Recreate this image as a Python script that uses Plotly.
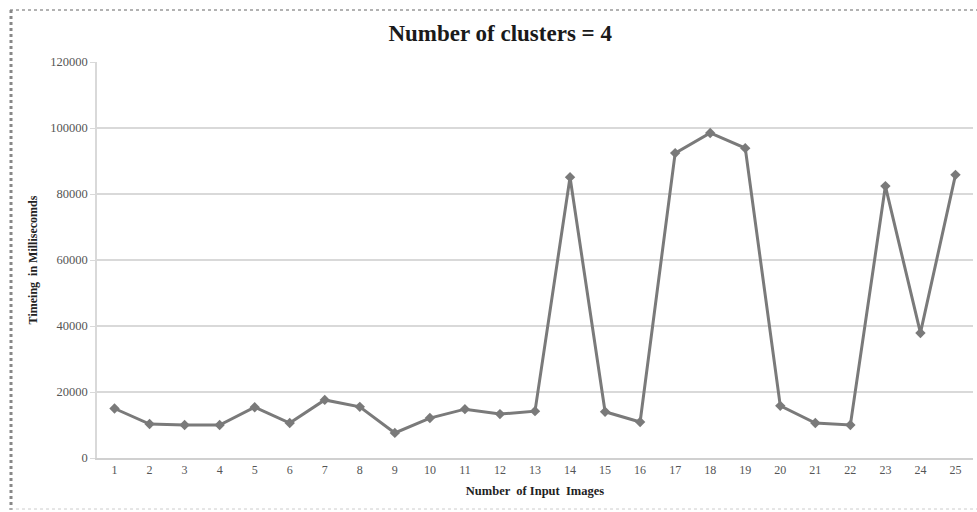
import plotly.graph_objects as go

categories = [str(i) for i in range(1, 26)]
timing_ms = [15000, 10300, 10000, 10000, 15400, 10600, 17600, 15500, 7600, 12100,
             14800, 13300, 14200, 85100, 14000, 10900, 92400, 98500, 93900, 15800,
             10600, 10000, 82400, 37900, 85800]
y_ticks = [0, 20000, 40000, 60000, 80000, 100000, 120000]

W, H = 977, 512
ml, mr, mt, mb = 97, 4, 62, 54

fig = go.Figure()
fig.add_trace(go.Scatter(
    x=categories, y=timing_ms, mode="lines+markers",
    line=dict(color="#7a7a7a", width=3),
    marker=dict(symbol="diamond", size=8, color="#7a7a7a"),
    showlegend=False,
))

serif = "Liberation Serif, Times New Roman, serif"
fig.update_layout(
    width=W, height=H,
    margin=dict(l=ml, r=mr, t=mt, b=mb),
    paper_bgcolor="white", plot_bgcolor="white",
    title=dict(text="<b>Number of clusters = 4</b>", x=0.512, xanchor="center",
               y=1 - 33 / H, yanchor="middle",
               font=dict(family=serif, size=23, color="#1a1a1a")),
    xaxis=dict(type="category", showgrid=False, showline=True, linecolor="#d0d0d0",
               linewidth=1.5, ticks="", tickfont=dict(family=serif, size=12, color="#555"),
               title=dict(text="<b>Number  of Input  Images</b>", standoff=10,
                          font=dict(family=serif, size=12.5, color="#222")),
               range=[-0.5, 24.5]),
    yaxis=dict(range=[0, 120000], tickvals=y_ticks, ticktext=[str(v) for v in y_ticks],
               showgrid=True, gridcolor="#d9d9d9", gridwidth=1.5,
               showline=True, linecolor="#d9d9d9", linewidth=1.5,
               ticks="outside", ticklen=5, tickcolor="#d9d9d9",
               zeroline=False,
               tickfont=dict(family=serif, size=12.5, color="#555"),
               title=dict(text="<b>Timeing  in Millisecomds</b>", standoff=10,
                          font=dict(family=serif, size=12, color="#222"))),
    shapes=[
        dict(type="line", xref="paper", yref="paper",
             x0=(10 - ml) / (W - ml - mr), x1=(W - ml) / (W - ml - mr),
             y0=(H - 10 - mb) / (H - mt - mb), y1=(H - 10 - mb) / (H - mt - mb),
             line=dict(color="#999", width=1.5, dash="dot")),
        dict(type="line", xref="paper", yref="paper",
             x0=(11 - ml) / (W - ml - mr), x1=(11 - ml) / (W - ml - mr),
             y0=(H - 10 - mb) / (H - mt - mb), y1=(H - 510 - mb) / (H - mt - mb),
             line=dict(color="#888", width=3, dash="dot")),
        dict(type="line", xref="paper", yref="paper",
             x0=(10 - ml) / (W - ml - mr), x1=(W - ml) / (W - ml - mr),
             y0=(H - 509 - mb) / (H - mt - mb), y1=(H - 509 - mb) / (H - mt - mb),
             line=dict(color="#ccc", width=1, dash="dot")),
    ],
)

fig.write_html("out.html", config={"displayModeBar": False},
               post_script="document.body.style.margin='0';document.body.style.overflow='hidden';")
